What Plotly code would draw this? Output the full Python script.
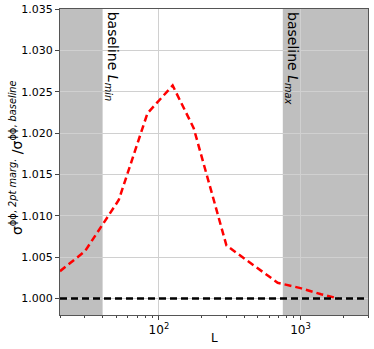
import numpy as np
import plotly.graph_objects as go

# --- data ---
L_vals = [20, 30, 52, 83, 125, 176, 300, 690, 1000, 1400, 1850]
ratio_vals = [1.0033, 1.0057, 1.0119, 1.0224, 1.02575, 1.0206, 1.0064, 1.0019, 1.00125, 1.0005, 1.0000]
L_min, L_max = 40, 750
x_range = [20, 3000]
y_range = [0.998, 1.035]
y_ticks = [1.000, 1.005, 1.010, 1.015, 1.020, 1.025, 1.030, 1.035]
x_ticks = [100, 1000]
x_ticklabels = ["10<sup>2</sup>", "10<sup>3</sup>"]
x_minor = [20, 30, 40, 50, 60, 70, 80, 90, 200, 300, 400, 500, 600, 700, 800, 900, 2000, 3000]

FONT = "DejaVu Sans"

fig = go.Figure()

# shaded regions outside the baseline range
for x0, x1 in [(x_range[0], L_min), (L_max, x_range[1])]:
    fig.add_shape(type="rect", xref="x", yref="paper", x0=x0, x1=x1, y0=0, y1=1,
                  fillcolor="#bfbfbf", line_width=0, layer="below")

fig.add_trace(go.Scatter(x=L_vals, y=ratio_vals, mode="lines",
                         line=dict(color="red", width=2.5, dash="7px,4px"), showlegend=False))
fig.add_trace(go.Scatter(x=x_range, y=[1.0, 1.0], mode="lines",
                         line=dict(color="black", width=2.5, dash="7px,4px"), showlegend=False))

for L_edge, lab in [(L_min, "min"), (L_max, "max")]:
    fig.add_annotation(x=np.log10(L_edge), y=1.0349, xref="x", yref="y", textangle=90,
                       text=f"baseline <i>L</i><sub><i>{lab}</i></sub>", showarrow=False,
                       xanchor="left", yanchor="top", xshift=-2,
                       font=dict(family=FONT, size=14, color="black"))

# axis titles as annotations so the margins stay fixed
fig.add_annotation(x=0.5, y=0, xref="paper", yref="paper", yshift=-23, text="L",
                   showarrow=False, xanchor="center", yanchor="middle",
                   font=dict(family=FONT, size=12, color="black"))
fig.add_annotation(x=0, y=0.5, xref="paper", yref="paper", xshift=-44, yshift=4, textangle=-90,
                   text="σ<sup>ϕϕ, <i>2pt marg.</i></sup> /σ<sup>ϕϕ, <i>baseline</i></sup>",
                   showarrow=False, xanchor="center", yanchor="middle",
                   font=dict(family=FONT, size=14, color="black"))

fig.update_xaxes(type="log", range=[np.log10(x_range[0]), np.log10(x_range[1])],
                 tickvals=x_ticks, ticktext=x_ticklabels, ticks="outside", ticklen=4,
                 tickcolor="#444", showgrid=True, gridcolor="#d0d0d0", gridwidth=1,
                 showline=True, linecolor="#555", linewidth=1, mirror=True, automargin=False,
                 minor=dict(tickvals=x_minor, ticks="outside", ticklen=2, tickcolor="#444", showgrid=False),
                 tickfont=dict(family=FONT, size=12, color="black"), zeroline=False)
fig.update_yaxes(range=y_range, tickvals=y_ticks, tickformat=".3f", ticks="outside", ticklen=4,
                 tickcolor="#444", showgrid=True, gridcolor="#d0d0d0", gridwidth=1,
                 showline=True, linecolor="#555", linewidth=1, mirror=True, zeroline=False,
                 automargin=False, tickfont=dict(family=FONT, size=11, color="black"))

fig.update_layout(width=374, height=349, margin=dict(l=60, r=6, t=9, b=34),
                  plot_bgcolor="white", paper_bgcolor="white", showlegend=False)

# page body has a default 8px margin; drop it so the figure fills the window
fig.write_html("out.html", config={"displayModeBar": False},
               post_script="document.body.style.margin='0';")
